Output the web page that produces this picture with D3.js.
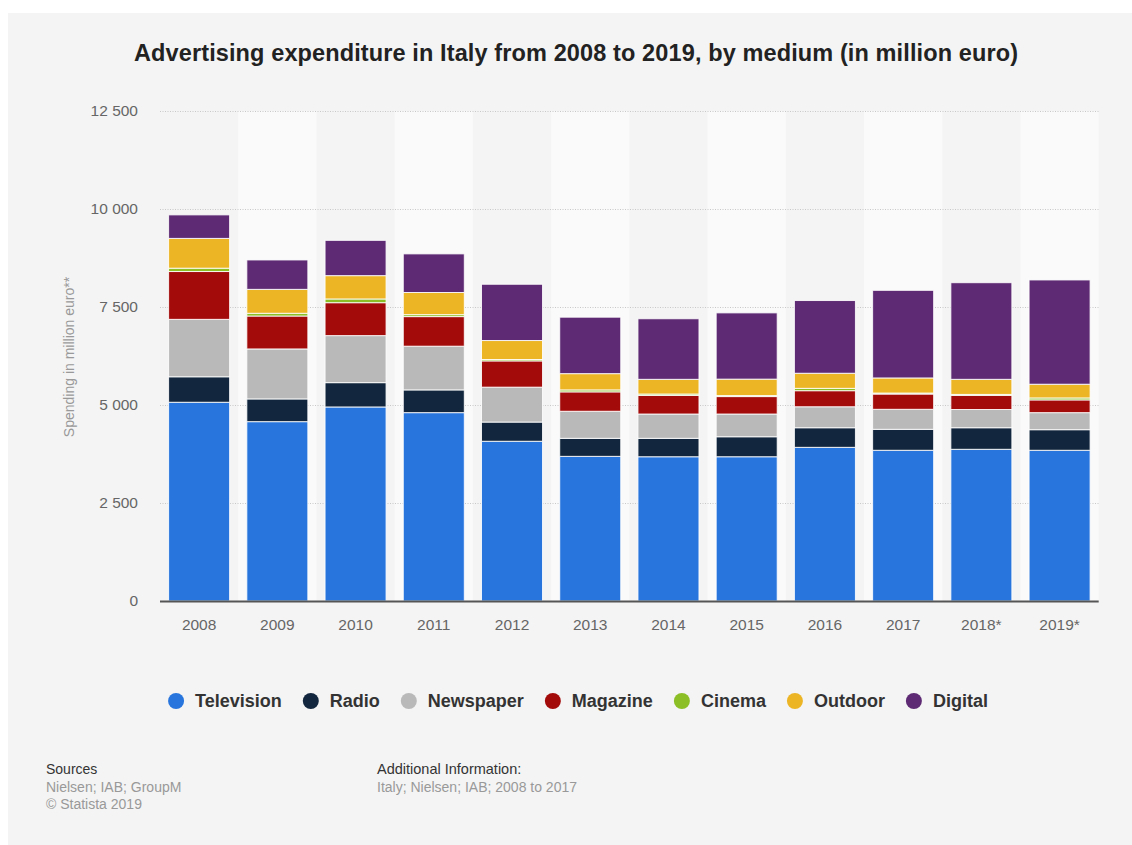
<!DOCTYPE html>
<html>
<head>
<meta charset="utf-8">
<script src="https://cdn.jsdelivr.net/npm/d3@7"></script>
<style>
  html, body { margin: 0; padding: 0; background: #ffffff; }
  svg { display: block; }
  text { font-family: "Liberation Sans", Arial, Helvetica, sans-serif; }
</style>
</head>
<body>
<svg id="chart" width="1132" height="845"></svg>
<script>
// Advertising spend in Italy by medium, million euro
const years = ["2008", "2009", "2010", "2011", "2012", "2013", "2014", "2015", "2016", "2017", "2018*", "2019*"];
const media = ["Television", "Radio", "Newspaper", "Magazine", "Cinema", "Outdoor", "Digital"];
const colors = ["#2876dd", "#12263d", "#b9b9b9", "#a30b0b", "#8cbf26", "#ecb526", "#5d2a73"];

const television = [5070, 4575, 4950, 4805, 4075, 3690, 3680, 3680, 3920, 3845, 3870, 3845];
const radio      = [ 650,  580,  620,  580,  490,  460,  470,  510,  500,  535,  550,  525];
const newspaper  = [1465, 1275, 1200, 1115,  890,  690,  620,  580,  535,  510,  465,  435];
const magazine   = [1220,  840,  840,  755,  670,  495,  475,  445,  410,  390,  360,  325];
const cinema     = [  85,   70,   95,   50,   35,   50,   35,   25,   60,   25,   25,   50];
const outdoor    = [ 760,  610,  595,  565,  485,  415,  375,  420,  385,  385,  385,  350];
const digital    = [ 600,  750,  900,  985, 1435, 1440, 1545, 1690, 1855, 2235, 2465, 2660];

const yTicks = [0, 2500, 5000, 7500, 10000, 12500];

const seriesValues = [television, radio, newspaper, magazine, cinema, outdoor, digital];
const rows = years.map((y, i) => {
  const r = { year: y };
  media.forEach((m, k) => { r[m] = seriesValues[k][i]; });
  return r;
});

const svg = d3.select("#chart");
const W = 1132, H = 845;

// panel background
svg.append("rect").attr("x", 8).attr("y", 13).attr("width", W - 8).attr("height", H - 13).attr("fill", "#f4f4f4");

const plot = { left: 160, right: 1098.7, top: 111, bottom: 601 };

const x = d3.scaleBand().domain(years).range([plot.left, plot.right]).paddingInner(0.22).paddingOuter(0.11);
const y = d3.scaleLinear().domain([0, 12500]).range([plot.bottom, plot.top]);

// alternating column bands
const step = x.step();
svg.append("g").selectAll("rect").data(years.filter((d, i) => i % 2 === 1)).join("rect")
  .attr("x", d => x(d) - step * 0.11)
  .attr("y", plot.top)
  .attr("width", step)
  .attr("height", plot.bottom - plot.top)
  .attr("fill", "#fafafa");

// gridlines
svg.append("g").selectAll("line").data(yTicks.filter(t => t > 0)).join("line")
  .attr("x1", plot.left).attr("x2", plot.right)
  .attr("y1", d => y(d) + 0.5).attr("y2", d => y(d) + 0.5)
  .attr("stroke", "#c8c8c8").attr("stroke-width", 1).attr("stroke-dasharray", "1,1.5");

// y axis labels
const fmt = v => d3.format(",")(v).replace(/,/g, " ");
const yAxis = d3.axisLeft(y).tickValues(yTicks).tickFormat(fmt).tickSize(0).tickPadding(0);
const gy = svg.append("g").attr("transform", `translate(138,0)`).call(yAxis);
gy.select(".domain").remove();
gy.selectAll("text").attr("font-size", 15.5).attr("fill", "#666").attr("font-family", "Liberation Sans, Arial, sans-serif");

// y axis title
svg.append("text")
  .attr("transform", `translate(74,357) rotate(-90)`)
  .attr("text-anchor", "middle")
  .attr("font-size", 14).attr("fill", "#999")
  .text("Spending in million euro**");

// stacked bars
const stack = d3.stack().keys(media);
const layers = stack(rows);
svg.append("g").selectAll("g").data(layers).join("g")
  .attr("fill", (d, i) => colors[i])
  .selectAll("rect").data(d => d).join("rect")
  .attr("x", d => x(d.data.year))
  .attr("width", x.bandwidth())
  .attr("y", d => y(d[1]))
  .attr("height", d => y(d[0]) - y(d[1]))
  .attr("stroke", "#ffffff").attr("stroke-width", 1).attr("stroke-opacity", 0.85);

// baseline
svg.append("line").attr("x1", plot.left).attr("x2", plot.right)
  .attr("y1", plot.bottom + 0.5).attr("y2", plot.bottom + 0.5)
  .attr("stroke", "#555").attr("stroke-width", 2);

// x axis labels
const xAxis = d3.axisBottom(x).tickSize(0).tickPadding(0);
const gx = svg.append("g").attr("transform", `translate(0,${plot.bottom + 18})`).call(xAxis);
gx.select(".domain").remove();
gx.selectAll("text").attr("font-size", 15.5).attr("fill", "#666").attr("dy", "0.71em").attr("font-family", "Liberation Sans, Arial, sans-serif");

// title
svg.append("text").attr("x", 576).attr("y", 61).attr("text-anchor", "middle")
  .attr("font-size", 23.5).attr("font-weight", "bold").attr("fill", "#222")
  .attr("textLength", 884).attr("lengthAdjust", "spacing")
  .text("Advertising expenditure in Italy from 2008 to 2019, by medium (in million euro)");

// legend
const legend = svg.append("g");
const items = legend.selectAll("g").data(media).join("g");
items.append("circle").attr("r", 8).attr("cy", 0).attr("fill", (d, i) => colors[i]);
items.append("text").attr("x", 19).attr("y", 0).attr("dy", "0.35em")
  .attr("font-size", 18).attr("font-weight", "bold").attr("fill", "#333").text(d => d);
let cx = 0;
const positions = [];
items.each(function () {
  const w = d3.select(this).select("text").node().getComputedTextLength();
  positions.push(cx);
  cx += 19 + w + 29;
});
const totalW = cx - 29 + 8;
const startX = 578 - totalW / 2 + 8;
items.attr("transform", (d, i) => `translate(${startX + positions[i]},701)`);

// footer
const foot = svg.append("g");
foot.append("text").attr("x", 46).attr("y", 774).attr("font-size", 14).attr("fill", "#333").text("Sources");
foot.append("text").attr("x", 46).attr("y", 792).attr("font-size", 14).attr("fill", "#999").text("Nielsen; IAB; GroupM");
foot.append("text").attr("x", 46).attr("y", 809).attr("font-size", 14).attr("fill", "#999").text("© Statista 2019");
foot.append("text").attr("x", 377).attr("y", 774).attr("font-size", 14.5).attr("fill", "#333").text("Additional Information:");
foot.append("text").attr("x", 377).attr("y", 792).attr("font-size", 14).attr("fill", "#999").text("Italy; Nielsen; IAB; 2008 to 2017");
</script>
</body>
</html>
